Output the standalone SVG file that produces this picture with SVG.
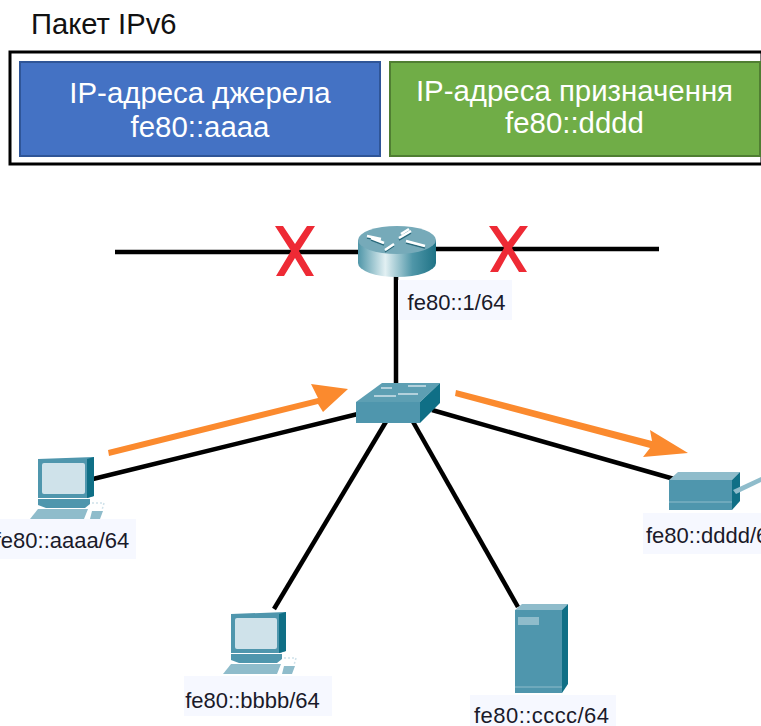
<svg xmlns="http://www.w3.org/2000/svg" width="761" height="726" viewBox="0 0 761 726">
<style>
text{font-family:"Liberation Sans",Arial,sans-serif}
.t{font-size:29.4px;fill:#fff;text-anchor:middle}
.l{font-size:22px;fill:#1a1a2a;text-anchor:middle}
.lb{fill:#f6f8ff}
.c{stroke:#000;stroke-width:4.5;fill:none}
.o{fill:#fb8a2e}
.x{fill:#ee2a35}
.m{fill:#4f96ad}.d{fill:#0f6f86}.h{fill:#8fbccb}.s{fill:#cfe2ea}
.g{stroke:#fff;stroke-width:2.5;fill:none}
.gd{stroke:#2b6a7c;stroke-width:1.5;fill:none}
.cb{stroke:#cfe2ea;stroke-width:1.5;stroke-dasharray:2 2;fill:none}
</style>
<defs>
<linearGradient id="rg" x1="0" x2="1" y1="0" y2="0">
<stop offset="0" stop-color="#4f96a8"/><stop offset=".35" stop-color="#e2f0f3"/><stop offset=".7" stop-color="#4f96a8"/><stop offset="1" stop-color="#1f7386"/>
</linearGradient>
</defs>
<rect width="761" height="726" fill="#fff"/>
<g id="packet">
<text x="31" y="34" font-size="29.2" fill="#111">Пакет IPv6</text>
<rect x="10" y="52" width="752" height="112" fill="#fff" stroke="#000" stroke-width="3"/>
</g>
<g id="source">
<rect x="20" y="62" width="360" height="94" fill="#4472c4" stroke="#2f5597" stroke-width="2"/>
<text class="t" x="200" y="103">IP-адреса джерела</text>
<text class="t" x="200" y="137">fe80::aaaa</text>
</g>
<g id="destination">
<rect x="390" y="62" width="370" height="94" fill="#70ad47" stroke="#507e32" stroke-width="2"/>
<text class="t" x="574.5" y="101">IP-адреса призначення</text>
<text class="t" x="574.5" y="133">fe80::dddd</text>
</g>
<g id="connectors">
<path class="c" d="M115 252H360M434 249L659 249"/>
<path class="c" d="M396 270V385"/>
<path class="c" d="M93 479L370 411"/>
<path class="c" d="M432 410L674 479"/>
<path class="c" d="M387 420L274 609"/>
<path class="c" d="M412 420L518 607"/>
</g>
<g id="arrows">
<path class="o" d="M108 450L318 398L311 384L348 389L323 412L318 404L109 456Z"/>
<path class="o" d="M456 390L652 441L650 430L688 453L643 457L650 448L455 396Z"/>
</g>
<g id="blocked">
<path class="x" d="M275 226H283L295 244L307 226H315L299 251L314 276H306L295 258L284 276H276L291 251Z"/>
<path class="x" d="M489 226H497L508 242L520 226H528L512 248L527 272H519L508 254L498 272H490L504 248Z"/>
</g>
<g id="router">
<path d="M358 240V263A39 14 0 0 0 436 263V240Z" fill="url(#rg)"/>
<ellipse cx="397" cy="240" rx="39" ry="14" fill="#76aab9"/>
<path class="gd" d="M367 238L381 241M384 245L371 240M408 231L401 236M399 240L411 233M406 243L425 248M394 246L385 252"/>
<path class="g" d="M367 236L381 239M384 243L371 238M409 229L401 234M399 238L411 231M406 241L425 246M394 244L385 250"/>
<rect class="lb" x="398" y="280" width="114" height="40"/>
<text class="l" x="456.500" y="310">fe80::1/64</text>
</g>
<g id="switch">
<path d="M356 402L382 383H440L420 402Z" fill="#5d9fb3"/>
<path class="m" d="M356 402H420V423H356Z"/>
<path class="d" d="M420 402L440 383V403L420 423Z"/>
<path d="M381 388H392M408 386H426M374 396H396M398 394H418" stroke="#cfe2ea" stroke-width="1.5" fill="none"/>
</g>
<g id="pc-a">
<path class="m" d="M38 459L94 457V496L88 498H38Z"/>
<path class="d" d="M87 459L94 457V496L87 498Z"/>
<rect class="s" x="42" y="463" width="43" height="31" rx="2"/>
<path class="m" d="M38 499H90V504L85 508H46L38 505Z"/>
<path class="h" d="M38 509H88L84 519H30Z"/>
<path class="h" d="M92 511H103L100 519H90Z"/>
<path class="cb" d="M92 503H104L102 510"/>
<rect class="lb" x="0" y="519" width="136" height="40"/>
<text class="l" x="62" y="548">fe80::aaaa/64</text>
</g>
<g id="pc-b">
<path class="m" d="M231 614L286 612V651L280 653H231Z"/>
<path class="d" d="M279 614L286 612V651L279 653Z"/>
<rect class="s" x="235" y="618" width="42" height="31" rx="2"/>
<path class="m" d="M231 654H282V659L277 663H239L231 660Z"/>
<path class="h" d="M231 664H281L277 674H223Z"/>
<path class="h" d="M284 666H295L292 674H282Z"/>
<path class="cb" d="M284 658H296L294 665"/>
<rect class="lb" x="184" y="676" width="148" height="40"/>
<text class="l" x="252.500" y="708">fe80::bbbb/64</text>
</g>
<g id="server">
<path class="h" d="M515 610L522 604H568L562 610Z"/>
<rect class="m" x="515" y="610" width="47" height="83"/>
<path class="d" d="M562 610L568 604V684L562 693Z"/>
<rect class="h" x="518" y="617" width="21" height="8"/>
<path d="M515 687H562" stroke="#8fbccb" stroke-width="1"/>
<rect class="lb" x="470" y="695" width="146" height="31"/>
<text class="l" x="541.500" y="723" textLength="135" lengthAdjust="spacing">fe80::cccc/64</text>
</g>
<g id="printer">
<path class="h" d="M669 480L678 472H740L732 480Z"/>
<rect class="m" x="669" y="480" width="63" height="30"/>
<path class="d" d="M732 480L740 472V501L732 510Z"/>
<path class="h" d="M733 490L761 477V482L736 494Z"/>
<path d="M669 502H732" stroke="#8fbccb" stroke-width="1"/>
<rect class="lb" x="643" y="513" width="118" height="41"/>
<text class="l" x="646" y="543" style="text-anchor:start">fe80::dddd/64</text>
</g>
</svg>
